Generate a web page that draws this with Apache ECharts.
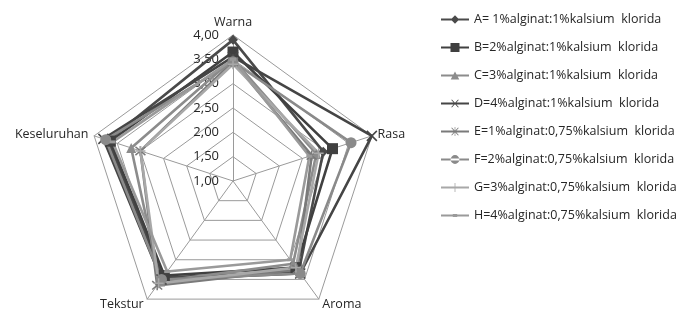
<!DOCTYPE html>
<html>
<head>
<meta charset="utf-8">
<script src="https://cdn.jsdelivr.net/npm/echarts@6/dist/echarts.min.js"></script>
<style>
html, body { margin: 0; padding: 0; background: #fff; }
#chart { width: 682px; height: 312px; }
</style>
</head>
<body>
<div id="chart"></div>
<script>
// axes of the radar, clockwise from top
var aspects = ['Warna', 'Rasa', 'Aroma', 'Tekstur', 'Keseluruhan'];
var names = [
	'A= 1%alginat:1%kalsium  klorida',
	'B=2%alginat:1%kalsium  klorida',
	'C=3%alginat:1%kalsium  klorida',
	'D=4%alginat:1%kalsium  klorida',
	'E=1%alginat:0,75%kalsium  klorida',
	'F=2%alginat:0,75%kalsium  klorida',
	'G=3%alginat:0,75%kalsium  klorida',
	'H=4%alginat:0,75%kalsium  klorida'
];
// scores, order: Warna, Rasa, Aroma, Tekstur, Keseluruhan
var valA = [3.90, 2.95, 3.30, 3.45, 3.70];
var valB = [3.65, 3.15, 3.20, 3.40, 3.65];
var valC = [3.50, 2.80, 3.10, 3.55, 3.20];
var valD = [3.55, 4.00, 3.35, 3.50, 3.80];
var valE = [3.45, 2.70, 3.25, 3.65, 3.00];
var valF = [3.45, 3.55, 3.35, 3.50, 3.75];
var valG = [3.40, 2.85, 3.20, 3.60, 3.00];
var valH = [3.50, 2.65, 3.00, 3.30, 3.60];
var axisMin = 1, axisMax = 4;

// echarts walks the radar counter-clockwise, so feed it in reverse after the top axis
var order = [0, 4, 3, 2, 1];
function reorder(arr) {
	return order.map(function(k) { return arr[k]; });
}

var colors = ['#4a4a4a', '#404040', '#8c8c8c', '#454545', '#7a7a7a', '#8a8a8a', '#a8a8a8', '#9a9a9a'];
var corner = 'M0,0h0.1v0.1h-0.1z M27.9,9.9h0.1v0.1h-0.1z ';
var bar = 'M0,3.9h28v2.2h-28z ';
var xMark = 'M10.3,1.5L10.9,0.9L17.7,8.5L17.1,9.1z M17.1,0.9L17.7,1.5L10.9,9.1L10.3,8.5z ';
var icons = [
	'path://' + corner + bar + 'M14,0.8L18.2,5L14,9.2L9.8,5z',
	'path://' + corner + bar + 'M9.5,0.5h9v9h-9z',
	'path://' + corner + bar + 'M14,1L18.3,9L9.7,9z',
	'path://' + corner + bar + xMark,
	'path://' + corner + bar + xMark + 'M13.7,0.5h0.6v9h-0.6z',
	'path://' + corner + bar + 'M9.6,5a4.4,4.4 0 1,0 8.8,0a4.4,4.4 0 1,0 -8.8,0z',
	'path://' + corner + bar + 'M13.6,0.5h0.8v9h-0.8z',
	'path://' + corner + bar + 'M11.8,3.4h4.4v3.2h-4.4z'
];
var crossPath = 'path://M0,0L10,10M10,0L0,10';
var starPath = 'path://M0,0L10,10M10,0L0,10M5,-1L5,11';
var plusPath = 'path://M5,0L5,10M0,5L10,5';
var symbols = ['diamond', 'rect', 'triangle', crossPath, starPath, 'circle', plusPath, 'rect'];
var symbolSizes = [10, 11, 10, 10, 10, 11, 10, [6, 3]];
var allVals = [valA, valB, valC, valD, valE, valF, valG, valH];

var fmt = function(v) {
	return v.toFixed(2).replace('.', ',');
};

var series = names.map(function(n, i) {
	var stroke = symbols[i].indexOf('path://') === 0;
	return {
		type: 'radar',
		name: n,
		symbol: symbols[i],
		symbolSize: symbolSizes[i],
		lineStyle: { color: colors[i], width: 2.6 },
		itemStyle: {
			color: stroke ? 'none' : colors[i],
			borderColor: colors[i],
			borderWidth: stroke ? 1.5 : 0
		},
		data: [{ name: n, value: reorder(allVals[i]) }]
	};
});

var chart = echarts.init(document.getElementById('chart'));
chart.setOption({
	animation: false,
	textStyle: { fontFamily: 'Open Sans' },
	legend: {
		orient: 'vertical',
		left: 436,
		top: 8,
		itemWidth: 28,
		itemHeight: 10,
		itemGap: 15,
		itemStyle: { borderWidth: 0 },
		lineStyle: { width: 0 },
		textStyle: { fontSize: 12.5, color: '#262626', fontFamily: 'Open Sans' },
		data: names.map(function(n, i) {
			return {
				name: n,
				icon: icons[i],
				itemStyle: { color: colors[i], borderWidth: 0 }
			};
		})
	},
	radar: {
		center: [233, 181],
		radius: 146,
		startAngle: 90,
		shape: 'polygon',
		splitNumber: 6,
		axisName: { color: '#262626', fontSize: 12.5, fontFamily: 'Open Sans' },
		nameGap: 6,
		axisLine: { lineStyle: { color: '#9a9a9a', width: 1 } },
		splitLine: { lineStyle: { color: '#9a9a9a', width: 1 } },
		splitArea: { show: false },
		axisLabel: { show: false },
		indicator: reorder(aspects).map(function(a, i) {
			var ind = { name: a, min: axisMin, max: axisMax };
			if (i === 0) {
				ind.axisLabel = {
					show: true, color: '#262626', fontSize: 13, margin: 14,
					formatter: fmt
				};
			}
			return ind;
		})
	},
	series: series
});
</script>
</body>
</html>
